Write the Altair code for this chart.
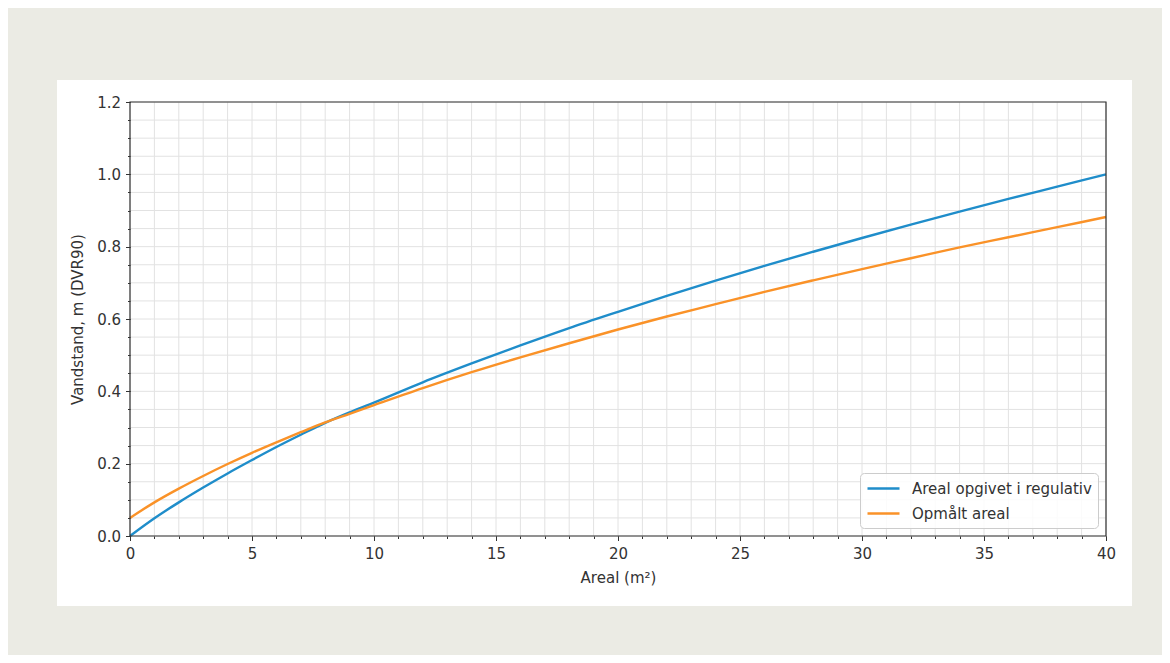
import altair as alt
import pandas as pd

# ---- data ----
areal = [0, 1, 2, 3, 4, 5, 6, 7, 8, 9, 10, 12, 14, 16, 18, 20, 22, 24, 26, 28, 30, 32, 34, 36, 38, 40]
regulativ = [0.000, 0.049, 0.093, 0.134, 0.173, 0.210, 0.246, 0.280, 0.313, 0.342, 0.369,
             0.425, 0.477, 0.527, 0.575, 0.620, 0.664, 0.706, 0.747, 0.786, 0.824,
             0.861, 0.897, 0.932, 0.966, 1.000]
opmaalt = [0.050, 0.093, 0.131, 0.166, 0.199, 0.230, 0.259, 0.287, 0.314, 0.338, 0.362,
           0.409, 0.453, 0.494, 0.533, 0.571, 0.607, 0.641, 0.675, 0.707, 0.738,
           0.768, 0.798, 0.826, 0.854, 0.882]
series_names = ["Areal opgivet i regulativ", "Opmålt areal"]
series_colors = ["#1f8dca", "#fa9228"]

x_major = [0, 5, 10, 15, 20, 25, 30, 35, 40]
x_minor = list(range(0, 41))
y_major = [0.0, 0.2, 0.4, 0.6, 0.8, 1.0, 1.2]
y_minor = [round(i * 0.05, 2) for i in range(0, 25)]

x_title = "Areal (m²)"
y_title = "Vandstand, m (DVR90)"

# ---- tables ----
df = pd.DataFrame({
    "x": areal + areal,
    "y": regulativ + opmaalt,
    "series": [series_names[0]] * len(areal) + [series_names[1]] * len(areal),
})

FONT = "DejaVu Sans"
TXT = "#333333"
GRID = "#e2e2e2"
FS = 15

x_scale = alt.Scale(domain=[0, 40], nice=False, zero=False)
y_scale = alt.Scale(domain=[0, 1.2], nice=False)

panel = alt.Chart(pd.DataFrame({"a": [0]})).mark_rect(color="white").encode(
    x=alt.value(-73), x2=alt.value(1002), y=alt.value(-22), y2=alt.value(504)
)

vgrid = alt.Chart(pd.DataFrame({"x": x_minor})).mark_rule(color=GRID, strokeWidth=1).encode(
    x=alt.X("x:Q", scale=x_scale,
            axis=alt.Axis(values=x_minor, labels=False, ticks=True, tickSize=2.5,
                          tickColor=TXT, domain=False, grid=False, title=None,
                          orient="bottom", zindex=1))
)

hgrid = alt.Chart(pd.DataFrame({"y": y_minor})).mark_rule(color=GRID, strokeWidth=1).encode(
    y=alt.Y("y:Q", scale=y_scale,
            axis=alt.Axis(values=y_minor, labels=False, ticks=True, tickSize=2.5,
                          tickColor=TXT, domain=False, grid=False, title=None,
                          orient="left", zindex=1))
)

lines = alt.Chart(df).mark_line(strokeWidth=2.4, interpolate="monotone").encode(
    x=alt.X("x:Q", scale=x_scale,
            axis=alt.Axis(values=x_major, format="d", title=x_title, grid=False,
                          tickSize=4.5, tickColor=TXT, domain=False, labelFlush=False,
                          labelFont=FONT, labelFontSize=FS, labelColor=TXT, labelPadding=6,
                          titleFont=FONT, titleFontSize=FS, titleFontWeight="normal",
                          titleColor=TXT, titlePadding=9, orient="bottom", zindex=1)),
    y=alt.Y("y:Q", scale=y_scale,
            axis=alt.Axis(values=y_major, format=".1f", title=y_title, grid=False,
                          tickSize=4.5, tickColor=TXT, domain=False, labelFlush=False,
                          labelFont=FONT, labelFontSize=FS, labelColor=TXT, labelPadding=5,
                          titleFont=FONT, titleFontSize=FS, titleFontWeight="normal",
                          titleColor=TXT, titlePadding=11, orient="left", zindex=1)),
    color=alt.Color("series:N",
                    scale=alt.Scale(domain=series_names, range=series_colors),
                    legend=alt.Legend(title=None, orient="bottom-right", offset=8,
                                      symbolType="M-1,0H3", symbolSize=256,
                                      symbolStrokeWidth=2.4, labelFont=FONT,
                                      labelFontSize=FS, labelColor=TXT, labelOffset=27,
                                      labelLimit=0,
                                      rowPadding=7, padding=6, cornerRadius=4,
                                      strokeColor="#cccccc", fillColor="rgba(255,255,255,0.85)")),
)

frame = alt.Chart(pd.DataFrame({"a": [0]})).mark_rect(
    filled=False, color="#333333", strokeWidth=1.2
).encode(
    x=alt.X(datum=0, type="quantitative", scale=x_scale, axis=None),
    x2=alt.X2(datum=40),
    y=alt.Y(datum=0, type="quantitative", scale=y_scale, axis=None),
    y2=alt.Y2(datum=1.2),
)

chart = (
    alt.layer(panel, vgrid, hgrid, lines, frame)
    .resolve_axis(x="independent", y="independent")
    .properties(
        width=976,
        height=434,
        autosize=alt.AutoSizeParams(type="none"),
        padding={"left": 122, "top": 94, "right": 56, "bottom": 119},
        background="#ebebe4",
    )
    .configure_view(stroke="transparent")
)

chart.save("out.html", embed_options={"renderer": "svg", "actions": False})
